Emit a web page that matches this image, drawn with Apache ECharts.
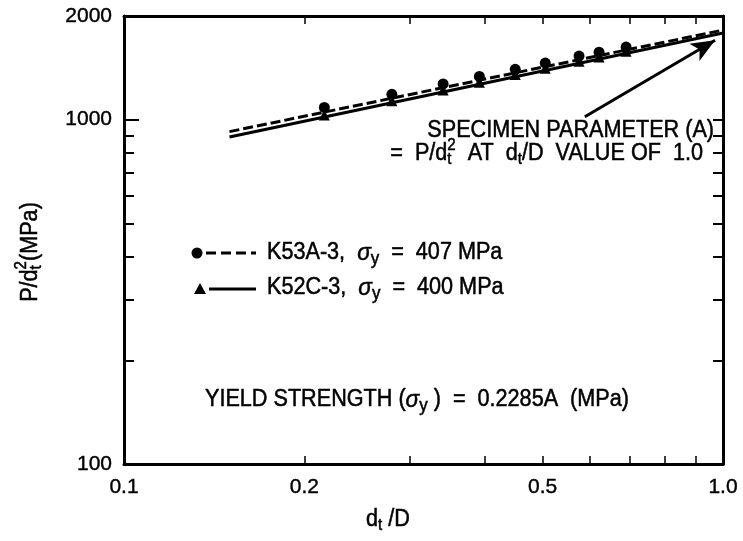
<!DOCTYPE html>
<html><head><meta charset="utf-8">
<script src="https://cdn.jsdelivr.net/npm/echarts@6/dist/echarts.min.js"></script>
<style>html,body{margin:0;padding:0;background:#fff}#c{width:743px;height:541px}</style>
</head><body><div id="c"></div>
<script>
// ---- data ----
const xLabelValues = [0.1, 0.2, 0.5, 1.0];
const xTickValues = [0.2, 0.3, 0.4, 0.5, 0.6, 0.7, 0.8, 0.9];
const yLabelValues = [100, 1000, 2000];
const yTickValues = [200, 300, 400, 500, 600, 700, 800, 900, 1000];
const yMajorTick = [1000];
const lineX = [0.15, 1.0];
const k53aLine = [923, 1820];
const k52cLine = [890, 1785];
const markerX = [0.216, 0.280, 0.341, 0.392, 0.450, 0.505, 0.575, 0.621, 0.689];
const k53aPoints = [1085, 1185, 1270, 1335, 1400, 1460, 1530, 1570, 1625];
const k52cPoints = [1032, 1135, 1220, 1285, 1352, 1410, 1478, 1520, 1580];
const arrowFrom = [0.588, 1020];
const arrowTo = [0.970, 1700];

const FONT = "'Liberation Sans', Arial, sans-serif";
const BIG = 23, SMALL = 16, SX = 0.94;
const ctx = document.createElement('canvas').getContext('2d');
function tw(t, s, st) { ctx.font = (st || 'normal') + ' ' + s + 'px ' + FONT; return ctx.measureText(t).width * SX; }
function layout(pieces) {
  let x = 0, colW = 0; const out = [];
  pieces.forEach(p => {
    const w = tw(p.t, p.s, p.st);
    out.push({ p, x });
    if (p.nx) { colW = Math.max(colW, w); }
    else { x += Math.max(colW, w); colW = 0; }
  });
  return { items: out, width: x };
}
function textEls(baseX, baseY, align, pieces) {
  const L = layout(pieces);
  let sx = baseX;
  if (align === 'right') sx = baseX - L.width;
  else if (align === 'center') sx = baseX - L.width / 2;
  return L.items.map(it => ({
    type: 'text', x: sx + it.x, y: baseY + (it.p.dy || 0), scaleX: SX, silent: true,
    style: { text: it.p.t, fontSize: it.p.s, fontFamily: FONT, fontStyle: it.p.st || 'normal',
      fill: '#000', stroke: '#000', lineWidth: 0.5,
      align: 'left', verticalAlign: 'middle', textAlign: 'left', textVerticalAlign: 'middle' }
  }));
}

const chart = echarts.init(document.getElementById('c'), null, { renderer: 'canvas' });
const axisLine = { show: true, lineStyle: { color: '#000', width: 3 } };
const xFmt = v => Math.abs(v - 1) < 1e-9 ? '1.0' : String(+Number(v).toPrecision(3));
const labelStyle = { color: '#000', fontSize: 21, fontFamily: FONT, textBorderColor: '#000', textBorderWidth: 0.4 };

const sig = [{ t: 'σ', s: BIG + 1, st: 'italic' }, { t: 'y', s: SMALL + 2, dy: 6 }];
const graphics = []
  .concat(textEls(714, 131, 'right', [{ t: 'SPECIMEN PARAMETER (A)', s: BIG }]))
  .concat(textEls(703, 154, 'right', [
    { t: '=  P/d', s: BIG }, { t: '2', s: SMALL, dy: -8, nx: true }, { t: 't', s: SMALL, dy: 6 },
    { t: '  AT  d', s: BIG }, { t: 't', s: SMALL, dy: 6 }, { t: '/D  VALUE OF  1.0', s: BIG }]))
  .concat(textEls(267, 253, 'left', [{ t: 'K53A-3,  ', s: BIG }].concat(sig, [{ t: '  =  407 MPa', s: BIG }])))
  .concat(textEls(267, 288, 'left', [{ t: 'K52C-3,  ', s: BIG }].concat(sig, [{ t: '  =  400 MPa', s: BIG }])))
  .concat(textEls(205, 400, 'left', [{ t: 'YIELD STRENGTH (', s: BIG }].concat(sig, [{ t: ' )  =  0.2285A  (MPa)', s: BIG }])))
  .concat(textEls(388, 520, 'center', [{ t: 'd', s: BIG }, { t: 't', s: SMALL, dy: 6 }, { t: ' /D', s: BIG }]))
  .concat([
    { type: 'circle', shape: { cx: 197, cy: 253, r: 5.5 }, style: { fill: '#000' }, silent: true },
    { type: 'line', shape: { x1: 206, y1: 253, x2: 256, y2: 253 }, style: { stroke: '#000', lineWidth: 3, lineDash: [10, 5] }, silent: true },
    { type: 'polygon', shape: { points: [[200, 283], [194, 294], [206, 294]] }, style: { fill: '#000' }, silent: true },
    { type: 'line', shape: { x1: 209, y1: 289, x2: 256, y2: 289 }, style: { stroke: '#000', lineWidth: 3 }, silent: true },
    { type: 'group', x: 31, y: 252, rotation: Math.PI / 2, silent: true,
      children: textEls(0, 0, 'center', [{ t: 'P/d', s: BIG }, { t: '2', s: SMALL, dy: -9, nx: true }, { t: 't', s: SMALL, dy: 6 }, { t: '(MPa)', s: BIG }]) }
  ]);

const tickStyle = (vals, len, w) => ({ show: true, inside: true, length: len, customValues: vals, lineStyle: { color: '#000', width: w } });
chart.setOption({
  animation: false,
  backgroundColor: '#fff',
  grid: { left: 124, right: 20, top: 16, bottom: 77 },
  xAxis: [
    { type: 'log', logBase: 10, min: 0.1, max: 1, position: 'bottom', axisLine,
      axisTick: tickStyle(xTickValues, 8, 1.5),
      axisLabel: Object.assign({ customValues: xLabelValues, formatter: xFmt, margin: 13 }, labelStyle),
      splitLine: { show: false } },
    { type: 'log', logBase: 10, min: 0.1, max: 1, position: 'top', axisLine,
      axisTick: tickStyle(xTickValues, 8, 1.5),
      axisLabel: { show: false }, splitLine: { show: false } }
  ],
  yAxis: [
    { type: 'log', logBase: 10, min: 100, max: 2000, position: 'left', axisLine,
      axisTick: tickStyle(yTickValues, 10, 2),
      axisLabel: Object.assign({ customValues: yLabelValues, formatter: v => String(Math.round(v)), margin: 12 }, labelStyle),
      splitLine: { show: false } },
    { type: 'log', logBase: 10, min: 100, max: 2000, position: 'right', axisLine,
      axisTick: tickStyle(yTickValues, 10, 2),
      axisLabel: { show: false }, splitLine: { show: false } },
    { type: 'log', logBase: 10, min: 100, max: 2000, position: 'left', axisLine: { show: false },
      axisTick: tickStyle(yMajorTick, 15, 2),
      axisLabel: { show: false }, splitLine: { show: false } }
  ],
  series: [
    { name: 'K53A-3', type: 'line', data: lineX.map((x, i) => [x, k53aLine[i]]), showSymbol: false,
      lineStyle: { color: '#000', width: 3, type: [10, 4] }, z: 3 },
    { name: 'K52C-3', type: 'line', data: lineX.map((x, i) => [x, k52cLine[i]]), showSymbol: false,
      lineStyle: { color: '#000', width: 3 }, z: 3 },
    { name: 'K53A-3 pts', type: 'scatter', data: markerX.map((x, i) => [x, k53aPoints[i]]), symbol: 'circle', symbolSize: 11,
      itemStyle: { color: '#000', opacity: 1 }, z: 4 },
    { name: 'K52C-3 pts', type: 'scatter', data: markerX.map((x, i) => [x, k52cPoints[i]]), symbol: 'triangle', symbolSize: 11,
      itemStyle: { color: '#000', opacity: 1 }, z: 4 },
    { name: 'arrow', type: 'line', data: [], silent: true,
      markLine: { silent: true, symbol: ['none', 'arrow'], symbolSize: [15, 24], label: { show: false },
        lineStyle: { color: '#000', width: 3, type: 'solid' },
        data: [[{ coord: arrowFrom }, { coord: arrowTo }]] } }
  ],
  graphic: graphics
});
</script></body></html>
